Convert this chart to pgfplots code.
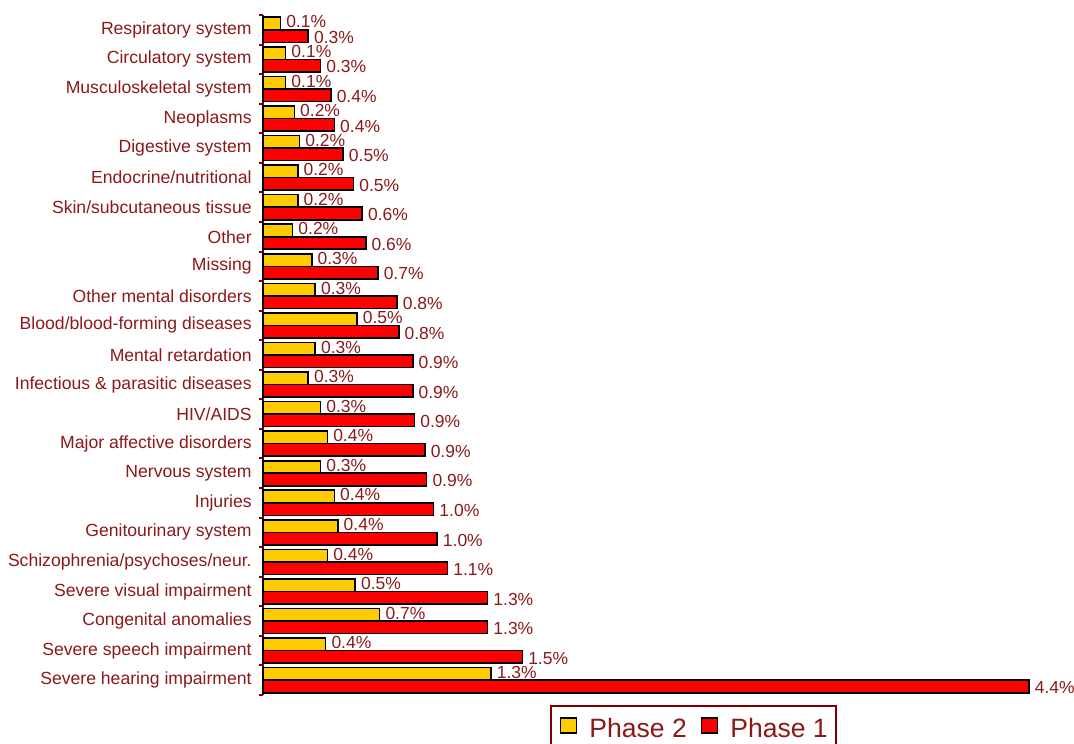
\documentclass[border=0pt]{standalone}
\usepackage{pgfplots}
\pgfplotsset{compat=1.18}
\usepackage{pgfplotstable}
\usepackage{fontspec}
\setmainfont{Liberation Sans}
\definecolor{dred}{RGB}{128,0,0}
\definecolor{tred}{RGB}{140,24,24}
\definecolor{gold}{RGB}{255,204,0}
\pgfplotstableread{
y p2 p1
0 1.31 4.40
1 0.36 1.49
2 0.67 1.29
3 0.53 1.29
4 0.37 1.06
5 0.43 1.00
6 0.41 0.98
7 0.33 0.94
8 0.37 0.93
9 0.33 0.87
10 0.26 0.86
11 0.30 0.86
12 0.54 0.78
13 0.30 0.77
14 0.28 0.66
15 0.17 0.59
16 0.20 0.57
17 0.20 0.52
18 0.21 0.46
19 0.18 0.41
20 0.13 0.39
21 0.13 0.33
22 0.10 0.26
}\data
\begin{document}
\begin{tikzpicture}
\begin{axis}[name=ax, scale only axis, width=600.6pt, height=510pt,
 xmin=0, xmax=4.6, ymin=-0.5, ymax=22.5,
 xbar, bar width=9.4pt,
 axis x line=none, axis y line*=left,
 axis line style={dred, line width=1.5pt},
 ytick={0,...,22},
 yticklabels={Severe hearing impairment, Severe speech impairment, Congenital anomalies, Severe visual impairment, Schizophrenia/psychoses/neur., Genitourinary system, Injuries, Nervous system, Major affective disorders, HIV/AIDS, Infectious \& parasitic diseases, Mental retardation, Blood/blood-forming diseases, Other mental disorders, Missing, Other, Skin/subcutaneous tissue, Endocrine/nutritional, Digestive system, Neoplasms, Musculoskeletal system, Circulatory system, Respiratory system},
 major tick length=0pt,
 minor ytick={-0.5,0.5,...,22.5}, minor tick length=3pt, tick align=outside,
 minor tick style={dred, line width=1.5pt},
 yticklabel style={font=\fontsize{13.2}{15}\selectfont, text=tred, xshift=-5pt},
 /pgf/number format/assume math mode=true,
 point meta=x,
 nodes near coords={\pgfmathprintnumber[fixed,fixed zerofill,precision=1]{\pgfplotspointmeta}\%},
 nodes near coords style={font=\fontsize{13.1}{15}\selectfont, text=tred, anchor=west, inner xsep=3.8pt, inner ysep=1pt},
 legend columns=2,
 legend style={at={(0.538,-0.0147)}, anchor=north, draw=dred, line width=1.5pt,
   font=\fontsize{19.9}{23}\selectfont, text=tred,
   nodes={inner xsep=0pt, inner ysep=3pt},
   /tikz/every even column/.append style={column sep=10.5pt},
   inner xsep=6.5pt, inner ysep=6pt},
 legend image code/.code={\draw[#1, line width=1.2pt] (0pt,-3.5pt) rectangle (12pt,8pt); \path (21pt,0pt);},
 clip=false
]
\addplot[xbar, bar shift=4.7pt, fill=gold, draw=black, line width=1.2pt,
  every node near coord/.append style={yshift=1.2pt}] table[x=p2,y=y]{\data};
\addlegendentry{Phase 2}
\addplot[xbar, bar shift=-4.7pt, fill=red, draw=black, line width=1.2pt,
  every node near coord/.append style={yshift=-1pt}] table[x=p1,y=y]{\data};
\addlegendentry{Phase 1}
\end{axis}
\pgfresetboundingbox
\path[use as bounding box] ([xshift=-197.25pt, yshift=-36pt]ax.south west) rectangle ++(805.5pt,557.25pt);
\end{tikzpicture}
\end{document}
